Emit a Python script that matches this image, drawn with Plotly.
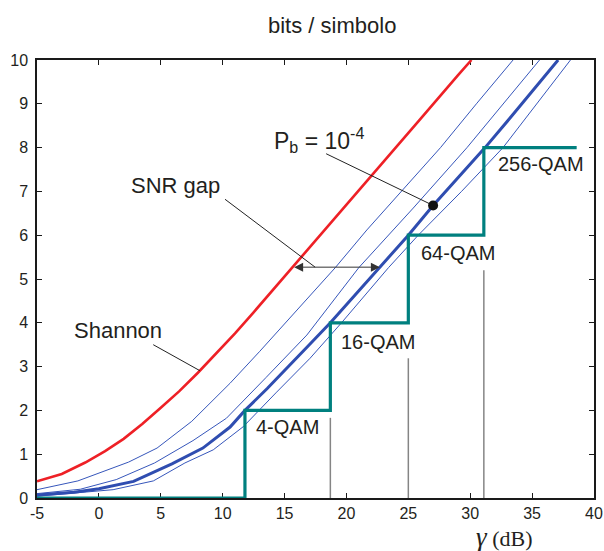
import numpy as np
import plotly.graph_objects as go

# Spectral efficiency (bits/symbol) vs SNR gamma (dB)
shannon_db = [-5, -3, -1.1, 0.5, 2.0, 3.5, 5.0, 6.5, 8.0, 9.5, 11.0, 12.5, 14.0, 15.5,
              17.0, 18.5, 20.0, 23.0, 26.0, 29.0, 30.1]
shannon_bits = [0.38, 0.55, 0.81, 1.07, 1.35, 1.69, 2.06, 2.44, 2.86, 3.3, 3.76, 4.24, 4.73, 5.22,
                5.71, 6.2, 6.68, 7.67, 8.66, 9.65, 10.0]

# QAM curve at Pb = 1e-4 (thick)
qam_db = [-5, -2, 0, 2.8, 5.9, 8.4, 10.6, 11.8, 13.6, 15.4, 17.0, 18.7, 20.7, 22.7,
          25.0, 27.0, 29.1, 31.2, 33.2, 35.2, 37.1]
qam_bits = [0.07, 0.13, 0.21, 0.38, 0.78, 1.14, 1.62, 2.0, 2.5, 3.04, 3.5, 4.0, 4.63, 5.27,
            6.0, 6.68, 7.35, 8.0, 8.67, 9.35, 10.0]

# neighbouring QAM curves (thin)
thin_a_db = [-5, -1.7, 2.4, 4.7, 7.5, 10.6, 13.0, 15.3, 17.06, 19.1, 21.65, 24.6, 27.6, 30.5, 33.46]
thin_a_bits = [0.19, 0.39, 0.82, 1.14, 1.75, 2.62, 3.35, 4.07, 4.6, 5.26, 6.12, 7.06, 8.0, 9.0, 10.0]

thin_b_db = [-5, -1.5, 1.4, 4.5, 7.6, 10.3, 13.5, 16.8, 21.0, 25.4, 29.74, 32.7, 35.6]
thin_b_bits = [0.10, 0.20, 0.42, 0.80, 1.31, 1.82, 2.75, 3.72, 5.26, 6.62, 8.0, 9.0, 10.0]

thin_c_db = [-5, 1.15, 4.4, 6.95, 9.24, 11.67, 14.3, 17.06, 19.6, 23.4, 25.8, 29.3, 32.65, 35.4, 38.1]
thin_c_bits = [0.04, 0.19, 0.39, 0.80, 1.10, 1.63, 2.4, 3.19, 4.0, 5.26, 6.0, 7.0, 8.0, 9.0, 10.0]

# QAM constellations: required SNR and bits per symbol
qam_labels = ["4-QAM", "16-QAM", "64-QAM", "256-QAM"]
qam_threshold_db = [11.8, 18.7, 25.0, 31.1]
qam_rate_bits = [2, 4, 6, 8]
step_start_db = -5
step_end_db = 38.6

# marked operating point on the Pb = 1e-4 curve
pb_point_db = 27.0
# level of the SNR gap arrow
gap_level_bits = 5.27
# heights of the drop lines under the QAM labels
drop_top_bits = [1.83, 3.19, 5.2]

# axis ticks
x_ticks = list(range(-5, 41, 5))
y_ticks = list(range(0, 11))

SANS = "Liberation Sans, Arial, Helvetica, sans-serif"
SERIF = "Liberation Serif, Times New Roman, serif"
TXT = "#231f20"

fig = go.Figure()

# staircase of QAM rates
step_x = [step_start_db] + qam_threshold_db + [step_end_db]
step_y = [0] + qam_rate_bits + [qam_rate_bits[-1]]

# drop lines from labels to the axis
for xv, top in zip(qam_threshold_db[1:], drop_top_bits):
    fig.add_trace(go.Scatter(x=[xv, xv], y=[0, top], mode="lines",
                             line=dict(color="#858585", width=1.5), hoverinfo="skip"))

for xs, ys in [(thin_a_db, thin_a_bits), (thin_b_db, thin_b_bits), (thin_c_db, thin_c_bits)]:
    fig.add_trace(go.Scatter(x=xs, y=ys, mode="lines",
                             line=dict(color="#3656bb", width=1)))

fig.add_trace(go.Scatter(x=qam_db, y=qam_bits, mode="lines",
                         line=dict(color="#2f4db0", width=3)))
fig.add_trace(go.Scatter(x=shannon_db, y=shannon_bits, mode="lines",
                         line=dict(color="#ee2026", width=2.6)))
fig.add_trace(go.Scatter(x=step_x, y=step_y, mode="lines", line_shape="hv",
                         line=dict(color="#00807f", width=3.2)))

# leader lines
pb_y = float(np.interp(pb_point_db, qam_db, qam_bits))
shannon_leader_x = 8.16
shannon_leader_y = float(np.interp(shannon_leader_x, shannon_db, shannon_bits))
gap_left = float(np.interp(gap_level_bits, shannon_bits, shannon_db))
gap_right = float(np.interp(gap_level_bits, qam_bits, qam_db))

leaders = [
    ([4.39, shannon_leader_x], [3.50, shannon_leader_y]),
    ([10.19, 17.47], [6.82, gap_level_bits]),
    ([18.36, pb_point_db], [7.86, pb_y]),
]
for lx, ly in leaders:
    fig.add_trace(go.Scatter(x=lx, y=ly, mode="lines",
                             line=dict(color="#222222", width=1), hoverinfo="skip"))

fig.add_trace(go.Scatter(x=[pb_point_db], y=[pb_y], mode="markers",
                         marker=dict(color="#111111", size=10)))

annotations = [
    dict(x=gap_right, y=gap_level_bits, ax=gap_left, ay=gap_level_bits,
         xref="x", yref="y", axref="x", ayref="y", text="", showarrow=True,
         arrowside="end+start", arrowhead=2, startarrowhead=2,
         arrowsize=1.8, startarrowsize=1.8, arrowwidth=1, arrowcolor="#333333"),
    dict(x=1.53, y=3.82, text="Shannon", font=dict(size=22)),
    dict(x=6.18, y=7.13, text="SNR gap", font=dict(size=22)),
    dict(x=17.75, y=8.17, text="P<sub>b</sub> = 10<sup>-4</sup>", font=dict(size=23)),
]
label_pos = [(15.2, 1.63), (22.52, 3.57), (29.04, 5.59), (35.75, 7.63)]
for lab, (lx, ly) in zip(qam_labels, label_pos):
    annotations.append(dict(x=lx, y=ly, text=lab, font=dict(size=20)))

for a in annotations:
    a.setdefault("showarrow", False)
    a.setdefault("xref", "x")
    a.setdefault("yref", "y")
    a.setdefault("xanchor", "center")
    a.setdefault("yanchor", "middle")
    f = a.setdefault("font", {})
    f.setdefault("family", SANS)
    f.setdefault("color", TXT)

annotations.append(dict(x=0.5296, y=1.0799, xref="paper", yref="paper",
                        text="bits / simbolo", showarrow=False,
                        xanchor="center", yanchor="middle",
                        font=dict(family=SANS, size=22, color=TXT)))
annotations.append(dict(x=0.838, y=-0.089, xref="paper", yref="paper",
                        text="<i><span style='font-size:27px'>γ</span></i> (dB)", showarrow=False,
                        xanchor="center", yanchor="middle",
                        font=dict(family=SERIF, size=22, color=TXT)))

axis_common = dict(showline=True, linecolor="#1a1a1a", linewidth=1.5, mirror="ticks",
                   ticks="inside", ticklen=5, tickwidth=1, tickcolor="#1a1a1a",
                   showgrid=False, zeroline=False, layer="below traces", automargin=False,
                   tickfont=dict(family=SANS, size=16, color=TXT))

fig.update_layout(
    width=604, height=551, autosize=False,
    margin=dict(l=37, r=10, t=60, b=53, autoexpand=False),
    paper_bgcolor="white", plot_bgcolor="white",
    showlegend=False,
    annotations=annotations,
    xaxis=dict(range=[-5, 40], tickmode="array", tickvals=x_ticks,
               ticktext=[str(v) for v in x_ticks], **axis_common),
    yaxis=dict(range=[0, 10], tickmode="array", tickvals=y_ticks,
               ticktext=[str(v) for v in y_ticks], ticklabelstandoff=4, **axis_common),
)

fig.write_html("out.html")
